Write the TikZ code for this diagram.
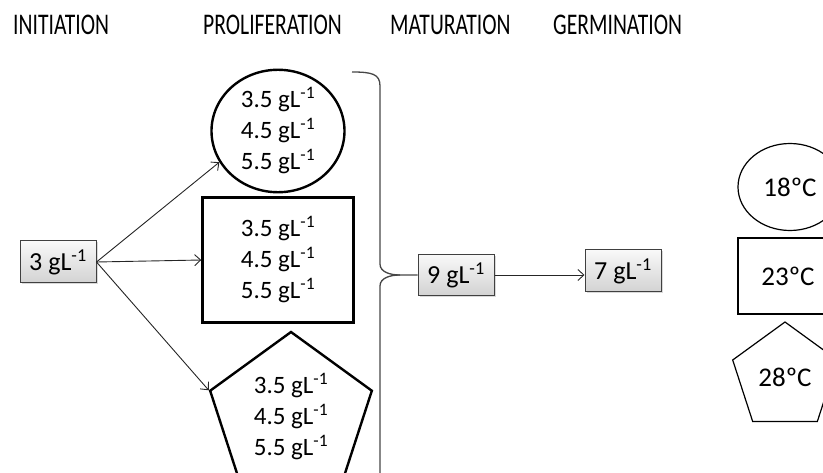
\documentclass[tikz,border=0pt]{standalone}
\usepackage{fontspec}
\setmainfont{Carlito}
\newfontfamily\headfont[FakeStretch=0.72]{Carlito}
\usetikzlibrary{shapes.geometric,shadows,arrows.meta}

\newcommand{\conc}[1]{#1 gL\textsuperscript{-1}}
\newcommand{\levels}{\conc{3.5}\\\conc{4.5}\\\conc{5.5}}

\tikzset{
  stage/.style={anchor=base west, inner sep=0pt, font=\headfont\fontsize{30}{32}\selectfont},
  medium/.style={draw, line width=2.4pt, inner sep=0pt, align=center, font=\fontsize{25}{31}\selectfont},
  temp/.style={draw, line width=1.2pt, inner sep=0pt, font=\fontsize{27}{30}\selectfont},
  dose/.style={draw=black!75, line width=1pt, top color=gray!5, bottom color=gray!35,
    drop shadow={opacity=0.3, shadow xshift=1.5pt, shadow yshift=-1.5pt},
    minimum width=76pt, minimum height=42pt, inner sep=0pt, font=\fontsize{26}{30}\selectfont},
  feed/.style={-{Straight Barb[length=6pt,width=11pt]}, gray!30!black, line width=0.9pt},
  brace/.style={gray!55!black, line width=1.3pt},
}

\begin{document}
\begin{tikzpicture}[x=1pt,y=-1pt]
  \useasboundingbox (0,0) rectangle (823,473);
  \clip (0,0) rectangle (823,473);

  \node[stage] (initiation) at (13,35) {INITIATION};
  \node[stage] (proliferation) at (203,35) {PROLIFERATION};
  \node[stage] (maturation) at (390,35) {MATURATION};
  \node[stage] (germination) at (553,35) {GERMINATION};

  \node[dose] (d3) at (58,262) {\conc{3}};

  \node[medium, ellipse, minimum width=133pt, minimum height=122pt] (pEll) at (278,131) {\levels};
  \node[medium, minimum width=151pt, minimum height=125pt] (pRect) at (278,260) {\levels};
  \node[medium, regular polygon, regular polygon sides=5, minimum size=170pt] (pPent) at (291,417) {\levels};

  \node[dose, minimum height=41pt] (d9) at (456,275) {\conc{9}};
  \node[dose] (d7) at (623,271) {\conc{7}};

  \node[temp, ellipse, minimum width=104pt, minimum height=87pt] (t18) at (790,187) {18ºC};
  \node[temp, minimum width=100pt, minimum height=76pt] (t23) at (788,276) {23ºC};
  \node[temp, regular polygon, regular polygon sides=5, minimum size=110pt] (t28) at (785,377) {28ºC};

  \draw[feed] (d3.east) -- (pEll.-152);
  \draw[feed] (d3.east) -- (pRect.west);
  \draw[feed] (d3.east) -- (pPent.corner 2);

  \coordinate (bTop) at (352,72);
  \coordinate (bTip) at (400,275);
  \draw[brace] (bTop) .. controls (372,72) and (380,74) .. (380,86) -- (380,264)
    .. controls (380,272) and (390,275) .. (bTip) -- (d9.west);
  \draw[brace] (bTip) .. controls (390,275) and (380,278) .. (380,286) -- (380,480);

  \draw[feed] (d9.east) -- (d9.east -| d7.west);
\end{tikzpicture}
\end{document}
